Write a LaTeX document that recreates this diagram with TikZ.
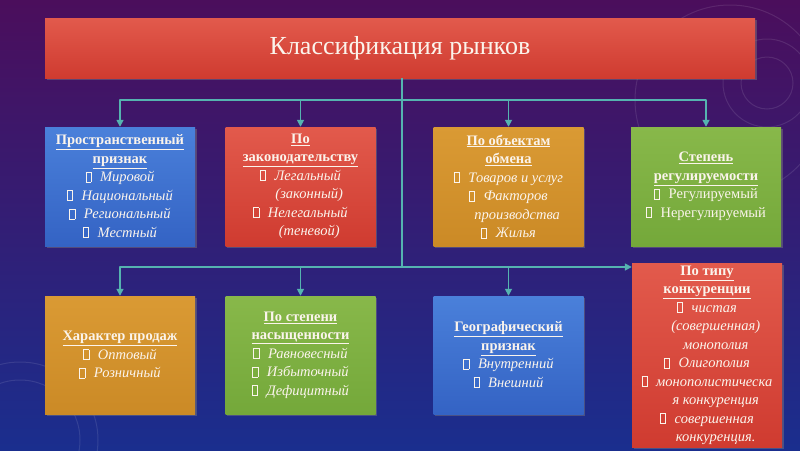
\documentclass[tikz,border=0pt]{standalone}
\usepackage{fontspec}
\setmainfont{Liberation Serif}
\usetikzlibrary{arrows.meta,shadows}
\definecolor{bgtop}{HTML}{4B0E5C}
\definecolor{bgmid}{HTML}{301A78}
\definecolor{bgbot}{HTML}{1A2E8E}
\definecolor{linkc}{HTML}{55B3B0}
\definecolor{txt}{HTML}{FBF4EC}
\definecolor{redtop}{HTML}{E25A4C}
\definecolor{redbot}{HTML}{CF3B30}
\definecolor{bluetop}{HTML}{4A80DA}
\definecolor{bluebot}{HTML}{3463C4}
\definecolor{orgtop}{HTML}{DA9A34}
\definecolor{orgbot}{HTML}{CB8A26}
\definecolor{grntop}{HTML}{88B84A}
\definecolor{grnbot}{HTML}{74A83A}
\newcommand\hd[1]{\textbf{\underline{#1}}}
\newcommand\tofu{{\setlength\fboxsep{0pt}\setlength\fboxrule{0.6pt}\fbox{\rule{0pt}{0.65em}\hspace{0.32em}}}}
\newcommand\itm[1]{\tofu\hspace{0.6em}\textit{#1}}
\newcommand\itu[1]{\tofu\hspace{0.6em}#1}
\begin{document}
\begin{tikzpicture}[x=1pt, y=-1pt, line join=round, >={Triangle[width=7pt,length=7pt]},
  cat/.style={minimum width=150pt, minimum height=119pt, inner sep=2pt, align=center, text=txt,
    font=\fontsize{14.5}{18.5}\selectfont,
    drop shadow={shadow xshift=1.5pt, shadow yshift=-1.5pt, opacity=0.45}},
  redbox/.style={top color=redtop, bottom color=redbot},
  bluebox/.style={top color=bluetop, bottom color=bluebot},
  orgbox/.style={top color=orgtop, bottom color=orgbot},
  grnbox/.style={top color=grntop, bottom color=grnbot},
  link/.style={draw=linkc, line width=1.6pt, ->}]
\useasboundingbox (0,0) rectangle (800,450);
% background
\shade[top color=bgtop, middle color=bgmid, bottom color=bgbot] (0,0) rectangle (800,450);
\begin{scope}[draw=white, opacity=0.1, line width=1pt]
\draw (767,83) circle (26);
\draw (767,83) circle (44);
\draw (730,100) circle (95);
\draw (20,440) circle (60);
\draw (20,440) circle (78);
\end{scope}
% title
\node[cat, redbox, minimum width=710pt, minimum height=60pt, font=\fontsize{26}{30}\selectfont] (title) at (400,48) {Классификация рынков};
% first row
\node[cat, bluebox] (c1) at (120,186.5) {\hd{Пространственный}\\ \hd{признак}\\ \itm{Мировой}\\ \itm{Национальный}\\ \itm{Региональный}\\ \itm{Местный}};
\node[cat, redbox] (c2) at (300.5,186.5) {\hd{По}\\ \hd{законодательству}\\ \itm{Легальный}\\ \hspace*{1.2em}\textit{(законный)}\\ \itm{Нелегальный}\\ \hspace*{1.2em}\textit{(теневой)}};
\node[cat, orgbox] (c3) at (508.5,186.5) {\hd{По объектам}\\ \hd{обмена}\\ \itm{Товаров и услуг}\\ \itm{Факторов}\\ \hspace*{1.2em}\textit{производства}\\ \itm{Жилья}};
\node[cat, grnbox] (c4) at (706,186.5) {\hd{Степень}\\ \hd{регулируемости}\\ \itu{Регулируемый}\\ \itu{Нерегулируемый}};
% second row
\node[cat, orgbox, minimum height=118pt] (c5) at (120,355) {\hd{Характер продаж}\\ \itm{Оптовый}\\ \itm{Розничный}};
\node[cat, grnbox, minimum height=118pt] (c6) at (300.5,355) {\hd{По степени}\\ \hd{насыщенности}\\ \itm{Равновесный}\\ \itm{Избыточный}\\ \itm{Дефицитный}};
\node[cat, bluebox, minimum height=118pt] (c7) at (508.5,355) {\hd{Географический}\\ \hd{признак}\\ \itm{Внутренний}\\ \itm{Внешний}};
\node[cat, redbox, minimum height=181pt] (c8) at (707,355.5) {\hd{По типу}\\ \hd{конкуренции}\\ \itm{чистая}\\ \hspace*{1.2em}\textit{(совершенная)}\\ \hspace*{1.2em}\textit{монополия}\\ \itm{Олигополия}\\ \itm{монополистическа}\\ \hspace*{1.2em}\textit{я конкуренция}\\ \itm{совершенная}\\ \hspace*{1.2em}\textit{конкуренция.}};
% connectors
\coordinate (j1) at (402,100);
\coordinate (j2) at (402,267);
\draw[linkc, line width=1.6pt] (title.south -| j1) -- (j2);
\foreach \n in {c1,c2,c3,c4}
  \draw[link] (j1) -| (\n.north);
\foreach \n in {c5,c6,c7}
  \draw[link] (j2) -| (\n.north);
\draw[link] (j2) -- (c8.west |- j2);
\end{tikzpicture}
\end{document}
